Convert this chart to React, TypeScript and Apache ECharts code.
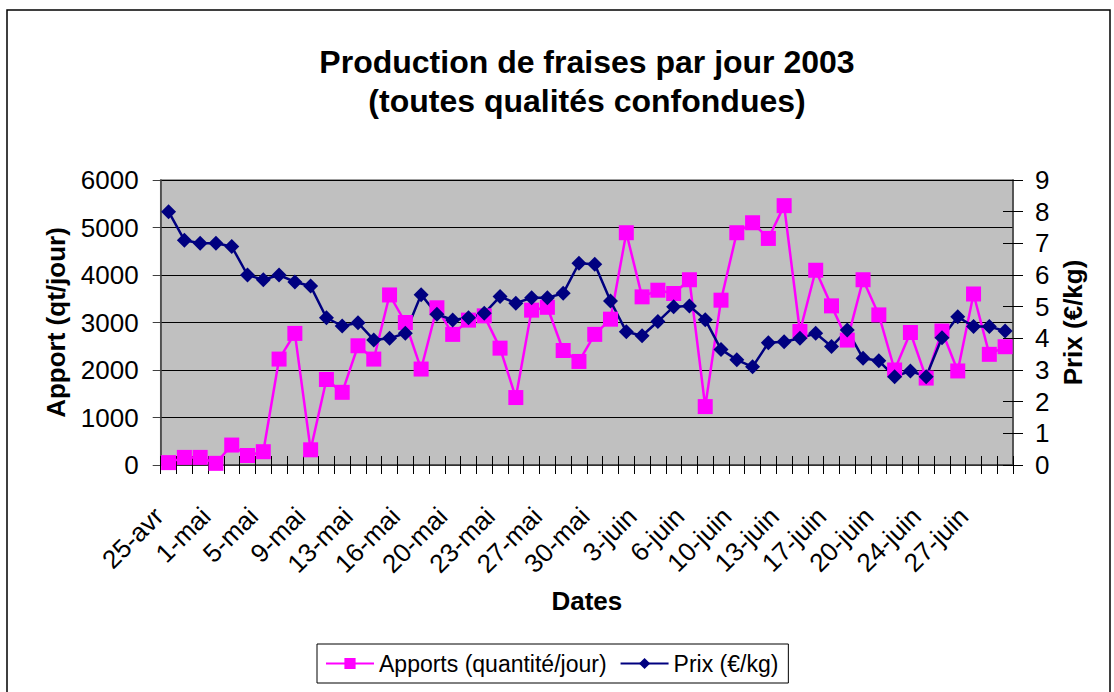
import React, { useEffect, useRef } from "react";
import * as echarts from "echarts";

const dates = [
  "25-avr", "28-avr", "30-avr", "1-mai", "2-mai", "3-mai", "5-mai", "6-mai", "7-mai",
  "9-mai", "10-mai", "12-mai", "13-mai", "14-mai", "15-mai", "16-mai", "17-mai", "19-mai",
  "20-mai", "21-mai", "22-mai", "23-mai", "24-mai", "26-mai", "27-mai", "28-mai", "29-mai",
  "30-mai", "31-mai", "2-juin", "3-juin", "4-juin", "5-juin", "6-juin", "7-juin", "9-juin",
  "10-juin", "11-juin", "12-juin", "13-juin", "14-juin", "16-juin", "17-juin", "18-juin", "19-juin",
  "20-juin", "21-juin", "23-juin", "24-juin", "25-juin", "26-juin", "27-juin", "28-juin", "30-juin",
];

const apports = [
  50, 160, 160, 35, 420, 200, 280, 2230, 2770,
  320, 1800, 1530, 2510, 2230, 3580, 3000, 2020, 3310,
  2750, 3050, 3140, 2460, 1420, 3260, 3320, 2410, 2180,
  2750, 3070, 4890, 3540, 3680, 3610, 3900, 1230, 3470,
  4890, 5100, 4770, 5460, 2810, 4100, 3350, 2630, 3900,
  3160, 2000, 2790, 1830, 2820, 1980, 3600, 2330, 2490,
];

const prix = [
  8.0, 7.1, 7.0, 7.0, 6.9, 6.0, 5.85, 6.0, 5.78,
  5.65, 4.65, 4.39, 4.49, 3.95, 4.0, 4.16, 5.38, 4.76,
  4.58, 4.65, 4.79, 5.32, 5.11, 5.28, 5.28, 5.42, 6.37,
  6.34, 5.18, 4.21, 4.08, 4.53, 5.0, 5.02, 4.59, 3.65,
  3.32, 3.1, 3.86, 3.89, 4.0, 4.16, 3.74, 4.26, 3.37,
  3.29, 2.79, 2.97, 2.79, 4.02, 4.68, 4.37, 4.37, 4.23,
];

const titleText = "Production de fraises par jour 2003\n(toutes qualités confondues)";
const seriesNames = ["Apports (quantité/jour)", "Prix (€/kg)"];

const FONT = "'Liberation Sans', Arial, sans-serif";

export default function App() {
  const ref = useRef<HTMLDivElement>(null);

  useEffect(() => {
    if (!ref.current) return;
    const chart = echarts.init(ref.current, null, { renderer: "svg" });
    const axisColor = "#404040";
    const option = {
      animation: false,
      backgroundColor: "#ffffff",
      textStyle: { fontFamily: FONT },
      title: {
        text: titleText,
        left: 587,
        top: 42,
        textAlign: "center",
        padding: 0,
        textStyle: {
          fontFamily: FONT,
          fontSize: 32,
          fontWeight: "bold",
          color: "#000",
          lineHeight: 39,
        },
      },
      graphic: [
        {
          type: "rect",
          shape: { x: 7, y: 10, width: 1103, height: 700 },
          style: { fill: "none", stroke: "#000", lineWidth: 1.5 },
          silent: true,
          z: -1,
        },
      ],
      legend: {
        left: 317,
        top: 644,
        orient: "horizontal",
        backgroundColor: "#ffffff",
        borderColor: "#000",
        borderWidth: 1,
        padding: [8, 10, 8, 8],
        itemWidth: 48,
        itemHeight: 14,
        itemGap: 13,
        textStyle: { fontFamily: FONT, fontSize: 23, color: "#000" },
        data: seriesNames,
      },
      grid: {
        left: 160.7,
        right: 101,
        top: 180,
        bottom: 227,
        show: true,
        backgroundColor: "#C0C0C0",
        borderColor: "#808080",
        borderWidth: 1.5,
        containLabel: false,
      },
      xAxis: [
        {
          type: "category",
          data: dates,
          position: "bottom",
          boundaryGap: true,
          name: "Dates",
          nameLocation: "middle",
          nameGap: 123,
          nameTextStyle: { fontFamily: FONT, fontSize: 26, fontWeight: "bold", color: "#000" },
          axisLine: { show: true, onZero: false, lineStyle: { color: axisColor, width: 1.5 } },
          axisTick: { show: true, interval: 0, length: 9, lineStyle: { color: "#000", width: 1 } },
          axisLabel: {
            interval: 2,
            rotate: 45,
            margin: 37,
            padding: [0, 14, 0, 0],
            fontFamily: FONT,
            fontSize: 26,
            color: "#000",
          },
          splitLine: { show: false },
        },
        {
          type: "category",
          data: dates,
          position: "bottom",
          boundaryGap: true,
          axisLine: { show: false, onZero: false },
          axisTick: { show: true, inside: true, interval: 0, length: 9, lineStyle: { color: "#000", width: 1 } },
          axisLabel: { show: false },
          splitLine: { show: false },
        },
      ],
      yAxis: [
        {
          type: "value",
          position: "left",
          min: 0,
          max: 6000,
          interval: 1000,
          name: "Apport (qt/jour)",
          nameLocation: "middle",
          nameRotate: 90,
          nameGap: 92,
          nameTextStyle: { fontFamily: FONT, fontSize: 26, fontWeight: "bold", color: "#000" },
          axisLine: { show: true, lineStyle: { color: axisColor, width: 1.5 } },
          axisTick: { show: true, length: 8, lineStyle: { color: axisColor, width: 1 } },
          axisLabel: {
            margin: 22,
            fontFamily: FONT,
            fontSize: 26,
            color: "#000",
            formatter: (v: number) => String(v),
          },
          splitLine: { show: true, lineStyle: { color: "#000", width: 1 } },
        },
        {
          type: "value",
          position: "right",
          min: 0,
          max: 9,
          interval: 1,
          name: "Prix (€/kg)",
          nameLocation: "middle",
          nameRotate: 90,
          nameGap: 46,
          nameTextStyle: { fontFamily: FONT, fontSize: 26, fontWeight: "bold", color: "#000" },
          axisLine: { show: true, lineStyle: { color: axisColor, width: 1.5 } },
          axisTick: { show: true, length: 10, lineStyle: { color: "#000", width: 1 } },
          axisLabel: { margin: 22, fontFamily: FONT, fontSize: 26, color: "#000" },
          splitLine: { show: false },
        },
        {
          type: "value",
          position: "right",
          min: 0,
          max: 9,
          interval: 1,
          axisLine: { show: false },
          axisTick: { show: true, inside: true, length: 10, lineStyle: { color: "#000", width: 1 } },
          axisLabel: { show: false },
          splitLine: { show: false },
        },
      ],
      series: [
        {
          name: seriesNames[0],
          type: "line",
          xAxisIndex: 0,
          yAxisIndex: 0,
          data: apports,
          symbol: "rect",
          symbolSize: 15,
          showSymbol: true,
          showAllSymbol: true,
          lineStyle: { color: "#FF00FF", width: 2.5 },
          itemStyle: { color: "#FF00FF", borderWidth: 0 },
        },
        {
          name: seriesNames[1],
          type: "line",
          xAxisIndex: 0,
          yAxisIndex: 1,
          data: prix,
          symbol: "diamond",
          symbolSize: [15, 15],
          showSymbol: true,
          showAllSymbol: true,
          lineStyle: { color: "#000080", width: 2.5 },
          itemStyle: { color: "#000080", borderWidth: 0 },
        },
      ],
    };
    chart.setOption(option as any);
    return () => {
      chart.dispose();
    };
  }, []);

  return (
    <div
      ref={ref}
      style={{ position: "fixed", left: 0, top: 0, width: 1114, height: 692, background: "#fff" }}
    />
  );
}
